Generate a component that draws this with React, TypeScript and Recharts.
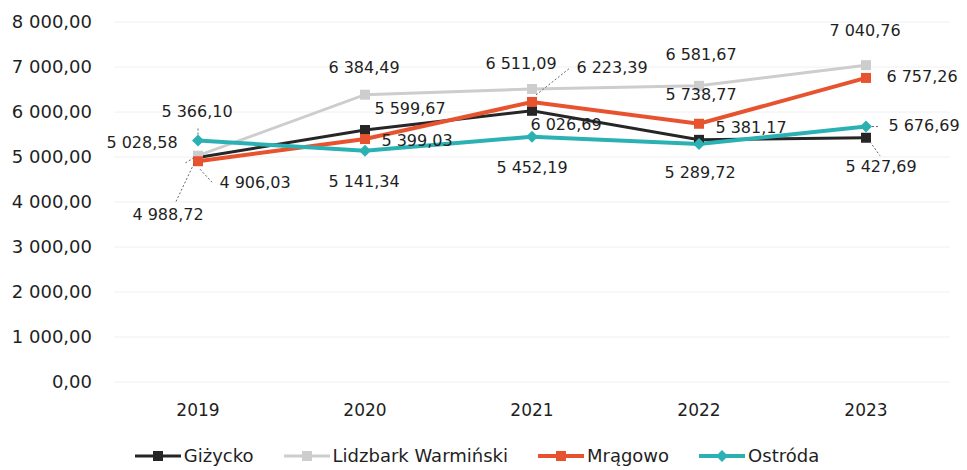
import { LineChart, Line, XAxis, YAxis, CartesianGrid, Legend, LabelList } from 'recharts'

const years = ['2019', '2020', '2021', '2022', '2023']
const gizycko = [4988.72, 5599.67, 6026.69, 5381.17, 5427.69]
const lidzbark = [5028.58, 6384.49, 6511.09, 6581.67, 7040.76]
const mragowo = [4906.03, 5399.03, 6223.39, 5738.77, 6757.26]
const ostroda = [5366.1, 5141.34, 5452.19, 5289.72, 5676.69]
const yTicks = [0, 1000, 2000, 3000, 4000, 5000, 6000, 7000, 8000]

const FONT = '"DejaVu Sans", sans-serif'

const chartData = years.map((rok, i) => ({
  rok,
  gizycko: gizycko[i],
  lidzbark: lidzbark[i],
  mragowo: mragowo[i],
  ostroda: ostroda[i],
}))

// polski zapis: spacja tysięcy, przecinek dziesiętny
const fmt = (v: number) => {
  const [int, dec] = v.toFixed(2).split('.')
  return int.replace(/\B(?=(\d{3})+(?!\d))/g, ' ') + ',' + dec
}

// przesunięcia etykiet względem punktu (środek tekstu) + opcjonalna linia odniesienia
type Lbl = { dx: number; dy: number; lead?: [number, number, number, number] }
const labelLayout: Record<string, Lbl[]> = {
  gizycko: [
    { dx: -30, dy: 57, lead: [-4, 6, -22, 44] },
    { dx: 45, dy: -22 },
    { dx: 34, dy: 14 },
    { dx: 52, dy: -12 },
    { dx: 15, dy: 29, lead: [4, 4, 14, 18] },
  ],
  lidzbark: [
    { dx: -56, dy: -13, lead: [-4, 2, -14, 8] },
    { dx: -1, dy: -27 },
    { dx: -11, dy: -26 },
    { dx: 2, dy: -31 },
    { dx: -1, dy: -35 },
  ],
  mragowo: [
    { dx: 57, dy: 21, lead: [2, 8, 14, 21] },
    { dx: 52, dy: 1 },
    { dx: 80, dy: -34, lead: [4, -7, 38, -34] },
    { dx: 2, dy: -29 },
    { dx: 56, dy: -1 },
  ],
  ostroda: [
    { dx: -1, dy: -29, lead: [0, -6, 0, -14] },
    { dx: -1, dy: 31 },
    { dx: 0, dy: 31 },
    { dx: 1, dy: 29 },
    { dx: 58, dy: -1, lead: [6, 0, 12, 0] },
  ],
}

const series = [
  { key: 'gizycko', name: 'Giżycko', color: '#262626', width: 3, shape: 'square' },
  { key: 'lidzbark', name: 'Lidzbark Warmiński', color: '#cdcdcd', width: 3, shape: 'square' },
  { key: 'mragowo', name: 'Mrągowo', color: '#e8532f', width: 4, shape: 'square' },
  { key: 'ostroda', name: 'Ostróda', color: '#2bb1b4', width: 4, shape: 'diamond' },
]

const Marker = ({ cx, cy, color, shape }: any) => {
  if (cx == null || cy == null) return null
  if (shape === 'diamond') {
    return <path d={`M${cx},${cy - 6} L${cx + 6},${cy} L${cx},${cy + 6} L${cx - 6},${cy} Z`} fill={color} />
  }
  return <rect x={cx - 5} y={cy - 5} width={10} height={10} fill={color} />
}

const DataLabel = ({ x, y, value, index, layout }: any) => {
  const l: Lbl = layout[index]
  return (
    <g>
      {l.lead && (
        <line
          x1={x + l.lead[0]}
          y1={y + l.lead[1]}
          x2={x + l.lead[2]}
          y2={y + l.lead[3]}
          stroke="#666"
          strokeWidth={1}
          strokeDasharray="2 2"
        />
      )}
      <text
        x={x + l.dx}
        y={y + l.dy}
        textAnchor="middle"
        dominantBaseline="central"
        fontFamily={FONT}
        fontSize={16}
        fill="#1f1f1f"
      >
        {fmt(value)}
      </text>
    </g>
  )
}

const LegendContent = () => (
  <div style={{ display: 'flex', justifyContent: 'center', gap: 30, paddingTop: 13, paddingLeft: 4 }}>
    {series.map((s) => (
      <div key={s.key} style={{ display: 'flex', alignItems: 'center' }}>
        <svg width={46} height={14}>
          <line x1={0} y1={7} x2={46} y2={7} stroke={s.color} strokeWidth={s.width} />
          {s.shape === 'diamond' ? (
            <path d="M23,1 L29,7 L23,13 L17,7 Z" fill={s.color} />
          ) : (
            <rect x={18} y={2} width={10} height={10} fill={s.color} />
          )}
        </svg>
        <span style={{ fontFamily: FONT, fontSize: 18, color: '#1f1f1f', marginLeft: 3 }}>{s.name}</span>
      </div>
    ))}
  </div>
)

export default function App() {
  return (
    <div style={{ position: 'absolute', left: 0, top: 0, background: '#fff' }}>
      <LineChart width={967} height={470} data={chartData} margin={{ top: 22, right: 17, left: 0, bottom: 0 }}>
        <CartesianGrid vertical={false} stroke="#f0f0f0" />
        <XAxis
          dataKey="rok"
          axisLine={false}
          tickLine={false}
          tickSize={0}
          tickMargin={22}
          height={50}
          padding={{ left: 84, right: 84 }}
          tick={{ fontFamily: FONT, fontSize: 17, fill: '#1f1f1f' }}
        />
        <YAxis
          domain={[0, 8000]}
          ticks={yTicks}
          width={114}
          axisLine={false}
          tickLine={false}
          tickSize={0}
          tickMargin={22}
          tickFormatter={fmt}
          tick={{ fontFamily: FONT, fontSize: 18, fill: '#1f1f1f' }}
        />
        <Legend verticalAlign="bottom" content={<LegendContent />} wrapperStyle={{ height: 38 }} />
        {series.map((s) => (
          <Line
            key={s.key}
            dataKey={s.key}
            name={s.name}
            type="linear"
            stroke={s.color}
            strokeWidth={s.width}
            dot={(p: any) => <Marker key={`${s.key}-${p.index}`} cx={p.cx} cy={p.cy} color={s.color} shape={s.shape} />}
            activeDot={false}
            isAnimationActive={false}
          >
            <LabelList dataKey={s.key} content={(p: any) => <DataLabel {...p} layout={labelLayout[s.key]} />} />
          </Line>
        ))}
      </LineChart>
    </div>
  )
}
